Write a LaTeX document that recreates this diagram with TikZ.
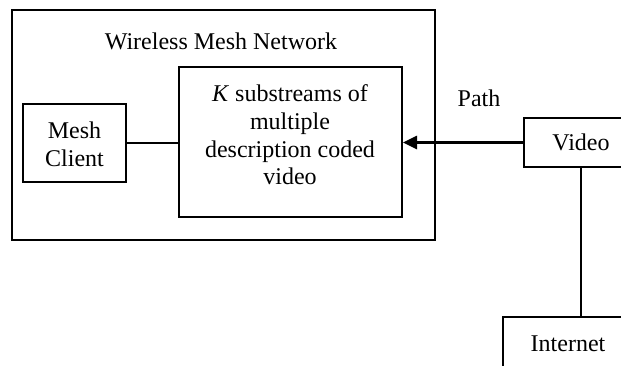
\documentclass[tikz,border=0pt]{standalone}
\usepackage{fontspec}
\setmainfont{Liberation Serif}
\usetikzlibrary{arrows.meta}
\begin{document}
\begin{tikzpicture}[x=0.5pt,y=-0.5pt,
  box/.style={draw,line width=1pt,inner sep=0pt},
  txt/.style={align=center,inner sep=0pt,font=\fontsize{12}{13.8}\selectfont},
  link/.style={line width=1pt},
  feed/.style={line width=1.3pt,-{Triangle[length=7pt,width=6.5pt]}}]
\useasboundingbox (0,0) rectangle (621,365);
\clip (0,0) rectangle (621,365);
\node[box,minimum width=211.5pt,minimum height=115pt] (wmn) at (223.5,125) {};
\node[txt] (wmnlabel) at (221,41) {Wireless Mesh Network};
\node[box,minimum width=111.5pt,minimum height=75pt] (kbox) at (290.5,142) {};
\node[txt] (ktext) at (290,135) {\textit{K} substreams of\\multiple\\description coded\\video};
\node[box,minimum width=51.5pt,minimum height=39pt] (client) at (74.5,143) {};
\node[txt] (clienttext) at (74.5,144) {Mesh\\Client};
\node[box,minimum width=57pt,minimum height=24.5pt,txt] (video) at (581,142.5) {Video};
\node[box,minimum width=65pt,minimum height=26.5pt,txt] (internet) at (568,343.5) {Internet};
\node[txt] (path) at (479,98) {Path};
\draw[link] (client.east) -- (client.east -| kbox.west);
\draw[feed] (video.west) -- (video.west -| kbox.east);
\draw[link] (video.south) -- (video.south |- internet.north);
\end{tikzpicture}
\end{document}
